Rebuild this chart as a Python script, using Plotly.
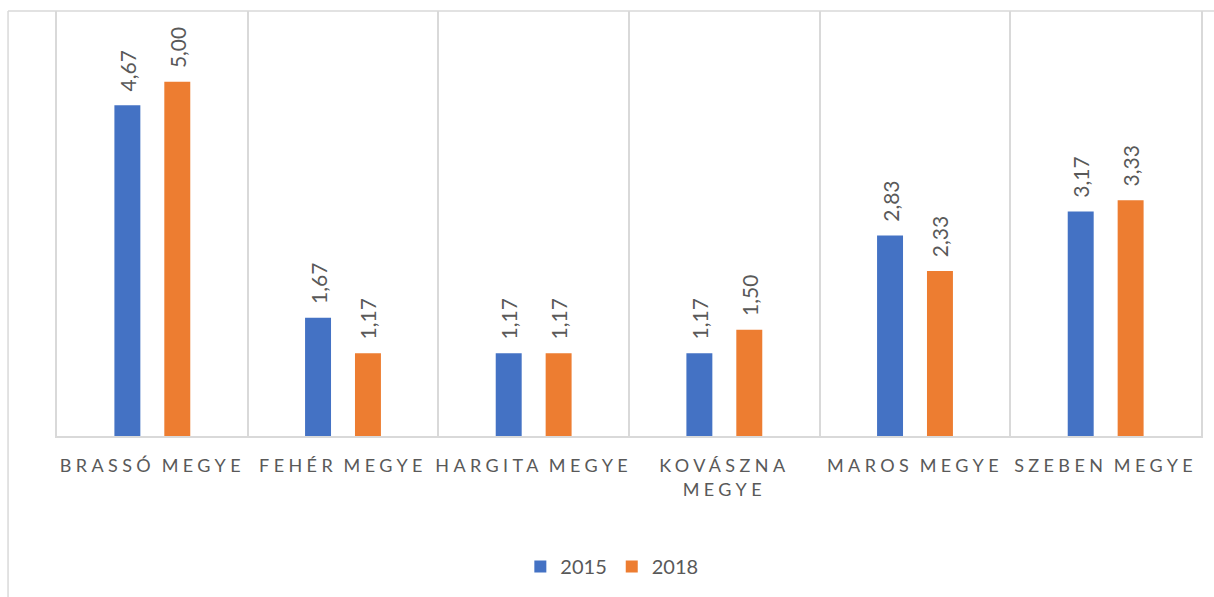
import plotly.graph_objects as go

categories = ["BRASSÓ MEGYE", "FEHÉR MEGYE", "HARGITA MEGYE", "KOVÁSZNA<br>MEGYE", "MAROS MEGYE", "SZEBEN MEGYE"]
values_2015 = [4.67, 1.67, 1.17, 1.17, 2.83, 3.17]
values_2018 = [5.00, 1.17, 1.17, 1.50, 2.33, 3.33]
series_names = ["2015", "2018"]
colors = ["#4472C4", "#ED7D31"]

GRID = "#D9D9D9"
TXT = "#595959"
FONT = "Lato"

def fmt(v):
    return f"{v:.2f}".replace(".", ",")

fig = go.Figure()
for name, vals, col in zip(series_names, [values_2015, values_2018], colors):
    fig.add_trace(go.Bar(
        x=categories, y=vals, name=name,
        marker=dict(color=col, line=dict(width=0)),
        text=[fmt(v) for v in vals],
        texttemplate="\u00a0\u00a0%{text}",
        textposition="outside", textangle=-90, constraintext="none",
        textfont=dict(family=FONT, size=21, color=TXT),
        cliponaxis=False,
    ))

fig.update_layout(
    width=1214, height=597,
    margin=dict(l=57, r=11, t=11, b=161),
    paper_bgcolor="white", plot_bgcolor="white",
    barmode="group", bargap=0.4764, bargroupgap=0.48,
    font=dict(family=FONT, color=TXT),
    showlegend=True,
    legend=dict(orientation="h", x=0.485, xanchor="center", y=-0.307, yanchor="middle",
                font=dict(family=FONT, size=20, color=TXT), itemwidth=30),
)
fig.update_xaxes(
    type="category", tickson="boundaries", showgrid=True, gridcolor=GRID, gridwidth=1.5,
    showline=True, linecolor=GRID, linewidth=1.5, ticks="", tickangle=0,
    tickfont=dict(family=FONT, size=18, color=TXT), ticklabelstandoff=13,
)
fig.update_yaxes(
    range=[0, 6], showgrid=False, zeroline=False, showticklabels=False,
    showline=True, mirror=True, linecolor=GRID, linewidth=1.5, ticks="",
)
# chart area border (partially cropped)
fig.add_shape(type="line", xref="paper", yref="paper", x0=-0.0428, x1=1.02, y0=1.0, y1=1.0,
              line=dict(color=GRID, width=1.5))
fig.add_shape(type="line", xref="paper", yref="paper", x0=-0.0428, x1=-0.0428, y0=1.0, y1=-0.5,
              line=dict(color=GRID, width=1.5))

post = """
document.body.style.margin='0';
document.body.style.padding='0';
var s=document.createElement('style');
s.innerHTML='.xtick text{letter-spacing:4.4px;word-spacing:-2.5px;}';
document.head.appendChild(s);
"""
fig.write_html("out.html", post_script=post, config={"displayModeBar": False})
